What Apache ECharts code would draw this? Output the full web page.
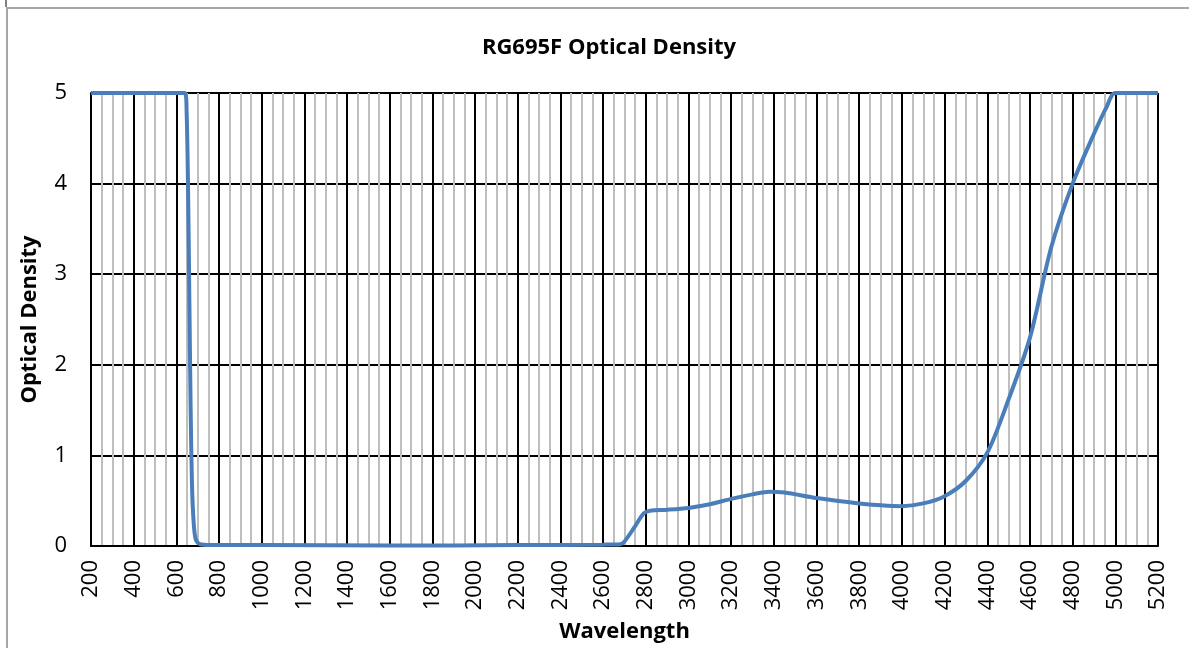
<!DOCTYPE html>
<html>
<head>
<meta charset="utf-8">
<script src="https://cdn.jsdelivr.net/npm/echarts@6/dist/echarts.min.js"></script>
<style>html,body{margin:0;padding:0;background:#fff;}#c{width:1189px;height:648px;}</style>
</head>
<body>
<div id="c"></div>
<script>
const chartTitle = 'RG695F Optical Density';
const xName = 'Wavelength';
const yName = 'Optical Density';
const wavelength = [200, 400, 600, 640, 648, 655, 661, 667, 673, 680, 690, 710, 760, 1000, 1600, 2200, 2600, 2680, 2700, 2750, 2790, 2820, 2900, 3000, 3100, 3200, 3300, 3380, 3450, 3600, 3800, 3900, 4000, 4100, 4200, 4300, 4400, 4500, 4600, 4700, 4800, 4900, 4960, 5000, 5200];
const density = [5, 5, 5, 5, 4.8, 3.9, 2.7, 1.5, 0.7, 0.3, 0.08, 0.02, 0.01, 0.01, 0.005, 0.01, 0.015, 0.02, 0.05, 0.22, 0.36, 0.39, 0.4, 0.42, 0.46, 0.52, 0.57, 0.6, 0.59, 0.53, 0.47, 0.45, 0.44, 0.47, 0.55, 0.72, 1.03, 1.62, 2.3, 3.3, 4.0, 4.55, 4.85, 5, 5];

const FONT = '"Open Sans", "Liberation Sans", sans-serif';
const chart = echarts.init(document.getElementById('c'), null, {renderer: 'canvas'});
chart.setOption({
  animation: false,
  backgroundColor: '#ffffff',
  title: {
    text: chartTitle,
    left: 604, top: 32, textAlign: 'center',
    textStyle: {fontFamily: FONT, fontSize: 22, fontWeight: 'bold', color: '#000'}
  },
  graphic: [
    {type: 'rect', shape: {x: 7, y: 8, width: 1200, height: 700}, style: {fill: 'none', stroke: '#a6a6a6', lineWidth: 2}, silent: true},
    {type: 'line', shape: {x1: 6, y1: 0, x2: 6, y2: 7}, style: {stroke: '#000', lineWidth: 1}, silent: true}
  ],
  grid: {left: 91, right: 31, top: 93, bottom: 102, containLabel: false, outerBoundsMode: 'none'},
  xAxis: {
    type: 'value', min: 200, max: 5200, interval: 200,
    name: xName, nameLocation: 'middle', nameGap: 75,
    nameTextStyle: {fontFamily: FONT, fontSize: 22, fontWeight: 'bold', color: '#000'},
    axisLine: {show: true, lineStyle: {color: '#000', width: 2}},
    axisTick: {show: false},
    axisLabel: {rotate: 90, margin: 14, fontFamily: FONT, fontSize: 22, color: '#000', formatter: v => String(v)},
    splitLine: {show: true, lineStyle: {color: '#000', width: 2}},
    minorTick: {show: false, splitNumber: 4},
    minorSplitLine: {show: true, lineStyle: {color: '#bfbfbf', width: 2}}
  },
  yAxis: {
    type: 'value', min: 0, max: 5, interval: 1,
    name: yName, nameLocation: 'middle', nameGap: 50, nameRotate: 90,
    nameTextStyle: {fontFamily: FONT, fontSize: 22, fontWeight: 'bold', color: '#000'},
    axisLine: {show: true, lineStyle: {color: '#000', width: 2}},
    axisTick: {show: false},
    axisLabel: {margin: 24, fontFamily: FONT, fontSize: 22, color: '#000'},
    splitLine: {show: true, lineStyle: {color: '#000', width: 2}}
  },
  series: [{
    type: 'line',
    data: wavelength.map((w, i) => [w, density[i]]),
    showSymbol: false,
    smooth: 0.3,
    lineStyle: {color: '#4a7ebb', width: 4},
    z: 5
  }]
});
</script>
</body>
</html>
